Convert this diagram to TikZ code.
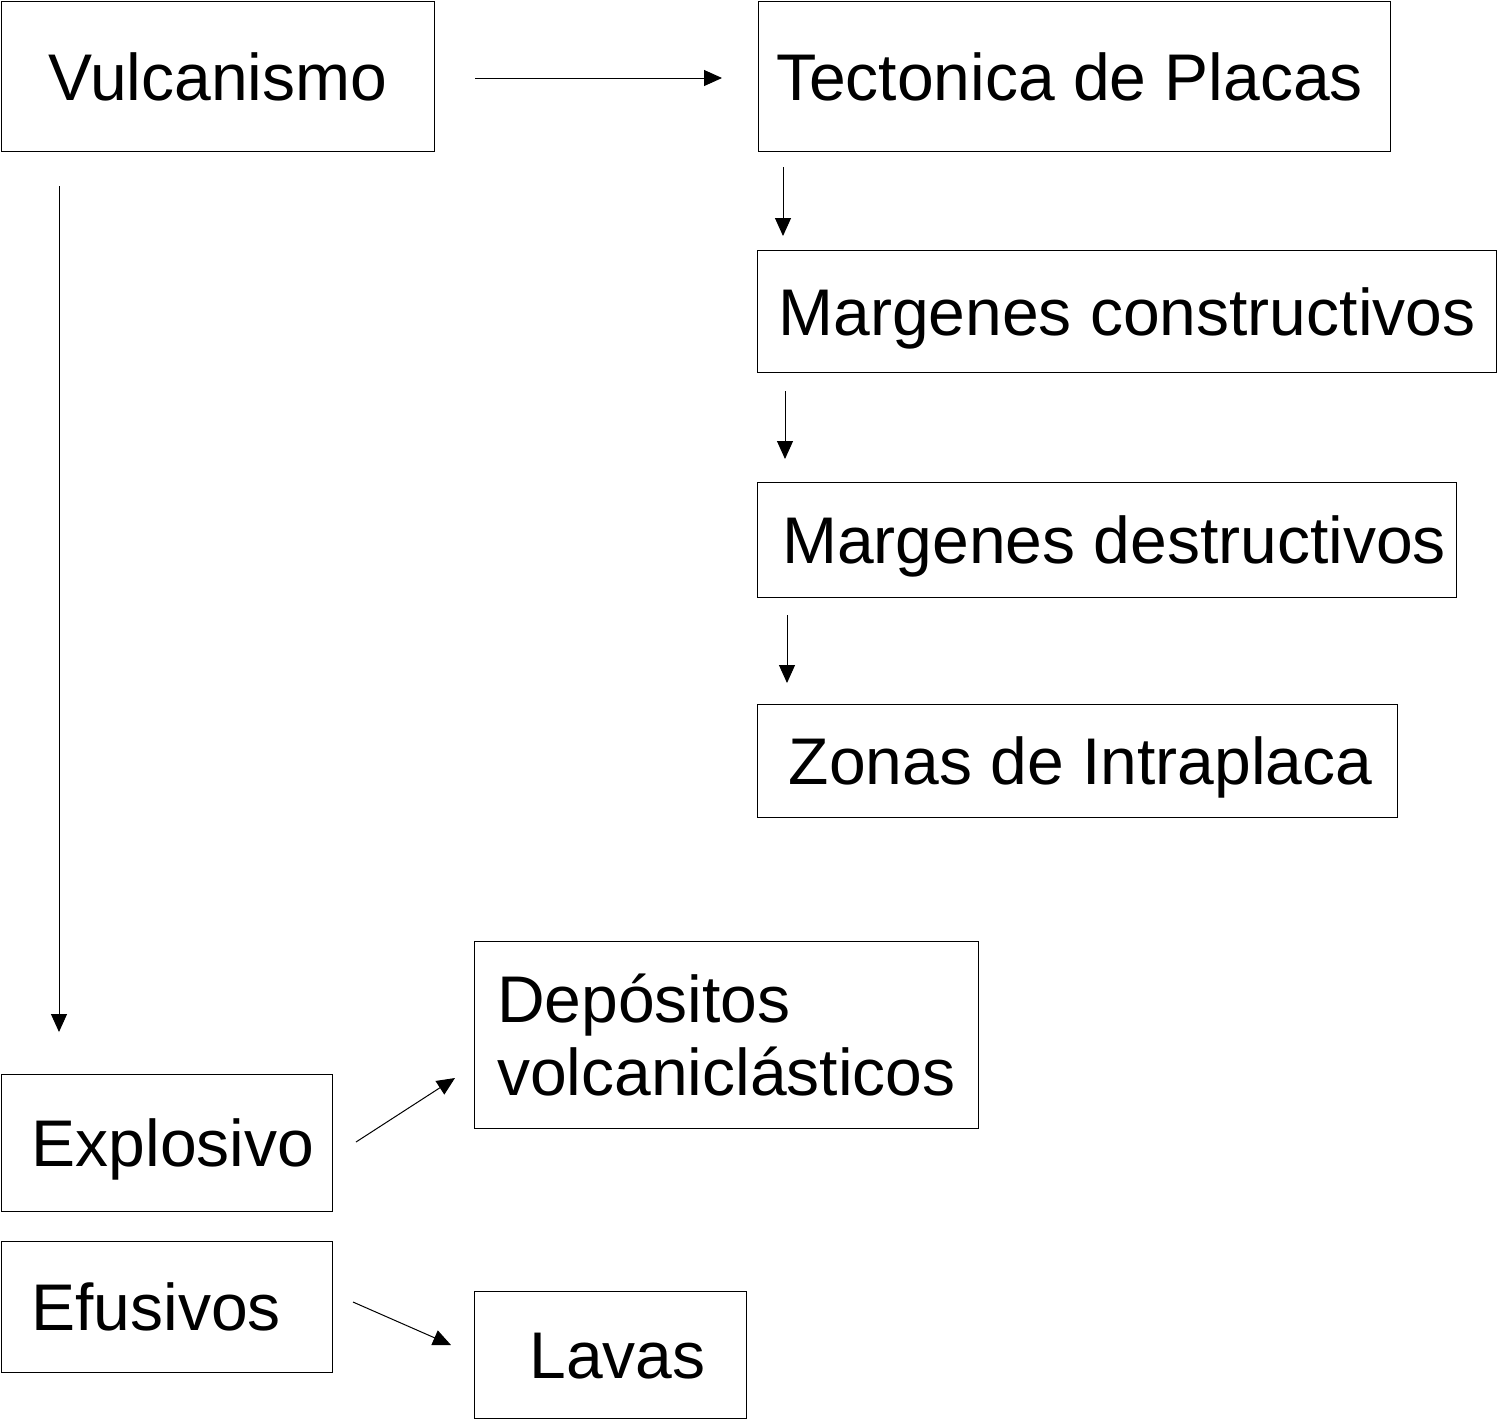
\documentclass[tikz,border=0pt]{standalone}
\usepackage{fontspec}
\setmainfont{Liberation Sans}
\usetikzlibrary{arrows.meta}
\begin{document}
\begin{tikzpicture}[x=0.5pt,y=-0.5pt,
  box/.style={draw,line width=0.5pt,anchor=north west,inner sep=0pt,
    font=\fontsize{33}{36.5}\selectfont,text height=23.6pt,text depth=0pt},
  conn/.style={line width=0.5pt,-{Triangle[length=9pt,width=8pt]}}]
\useasboundingbox (0,0) rectangle (1497,1420);
\node[box,minimum width=216.5pt,minimum height=75pt] (vul) at (1,1) {Vulcanismo};
\node[box,minimum width=316pt,minimum height=75pt] (tect) at (758,1) {Tectonica de Placas\kern5pt};
\node[box,minimum width=369.5pt,minimum height=61pt] (mc) at (757,250) {Margenes constructivos};
\node[box,minimum width=349.5pt,minimum height=57.5pt] (md) at (757,482) {\hspace{7pt}Margenes destructivos};
\node[box,minimum width=320pt,minimum height=56.5pt] (zi) at (757,704) {\hspace{3pt}Zonas de Intraplaca};
\node[box,minimum width=165.5pt,minimum height=68.5pt] (exp) at (1,1074) {\hspace{6pt}Explosivo};
\node[box,minimum width=165.5pt,minimum height=65.5pt] (efu) at (1,1241) {Efusivos\kern11pt};
\node[box,minimum width=252pt,minimum height=93.5pt,align=left,text height=,text depth=] (dep) at (474,941) {Depósitos\\volcaniclásticos};
\node[box,minimum width=136pt,minimum height=63.5pt] (lav) at (474,1291) {\hspace{7pt}Lavas};
\coordinate (a1) at (475,78);  \coordinate (b1) at (722,78);
\coordinate (a2) at (783,167); \coordinate (b2) at (783,236);
\coordinate (a3) at (785,391); \coordinate (b3) at (785,459);
\coordinate (a4) at (787,615); \coordinate (b4) at (787,683);
\coordinate (a5) at (59,186);  \coordinate (b5) at (59,1032);
\coordinate (a6) at (356,1142); \coordinate (b6) at (455,1078);
\coordinate (a7) at (353,1302); \coordinate (b7) at (451,1345);
\draw[conn] (a1) -- (b1);
\draw[conn] (a2) -- (b2);
\draw[conn] (a3) -- (b3);
\draw[conn] (a4) -- (b4);
\draw[conn] (a5) -- (b5);
\draw[conn] (a6) -- (b6);
\draw[conn] (a7) -- (b7);
\end{tikzpicture}
\end{document}
